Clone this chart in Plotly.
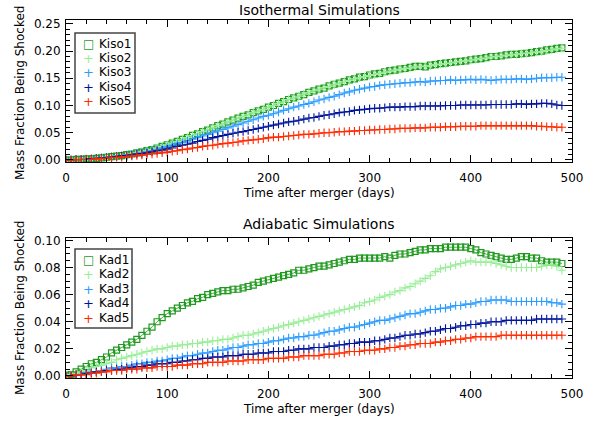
import plotly.graph_objects as go

days = list(range(0, 491, 5))

kiso1 = [0.000,0.000,0.001,0.001,0.002,0.002,0.003,0.004,0.005,0.006,
         0.007,0.008,0.010,0.011,0.013,0.015,0.017,0.019,0.022,0.025,
         0.028,0.031,0.034,0.038,0.041,0.045,0.048,0.052,0.055,0.059,
         0.063,0.066,0.070,0.073,0.077,0.080,0.083,0.087,0.090,0.093,
         0.097,0.100,0.104,0.107,0.111,0.114,0.117,0.120,0.124,0.127,
         0.130,0.132,0.136,0.139,0.141,0.144,0.147,0.149,0.152,0.153,
         0.156,0.158,0.159,0.162,0.164,0.165,0.167,0.168,0.170,0.172,
         0.172,0.171,0.174,0.175,0.177,0.178,0.179,0.180,0.181,0.182,
         0.184,0.185,0.186,0.188,0.190,0.190,0.191,0.193,0.194,0.194,
         0.195,0.196,0.197,0.199,0.200,0.202,0.203,0.205,0.206]
kiso2 = [0.000,0.000,0.001,0.001,0.002,0.002,0.003,0.004,0.005,0.006,
         0.007,0.008,0.010,0.011,0.013,0.015,0.017,0.019,0.022,0.025,
         0.028,0.031,0.034,0.038,0.041,0.045,0.048,0.052,0.055,0.059,
         0.063,0.066,0.070,0.073,0.077,0.080,0.083,0.087,0.090,0.093,
         0.097,0.100,0.104,0.107,0.111,0.114,0.117,0.121,0.124,0.127,
         0.130,0.133,0.135,0.138,0.141,0.144,0.146,0.149,0.151,0.153,
         0.155,0.157,0.159,0.161,0.163,0.165,0.166,0.168,0.169,0.171,
         0.172,0.172,0.173,0.175,0.176,0.177,0.178,0.180,0.181,0.182,
         0.183,0.185,0.186,0.187,0.189,0.190,0.191,0.192,0.193,0.194,
         0.195,0.196,0.197,0.198,0.199,0.201,0.202,0.204,0.205]
kiso3 = [0.000,0.000,0.001,0.001,0.002,0.002,0.003,0.004,0.005,0.006,
         0.007,0.008,0.009,0.010,0.012,0.013,0.015,0.017,0.019,0.022,
         0.024,0.027,0.030,0.032,0.035,0.038,0.041,0.044,0.047,0.050,
         0.053,0.056,0.059,0.062,0.065,0.068,0.071,0.074,0.077,0.080,
         0.082,0.085,0.088,0.091,0.094,0.097,0.099,0.102,0.104,0.107,
         0.110,0.112,0.115,0.117,0.120,0.123,0.125,0.128,0.130,0.132,
         0.134,0.135,0.137,0.138,0.139,0.140,0.141,0.142,0.142,0.143,
         0.144,0.143,0.145,0.145,0.146,0.146,0.147,0.146,0.147,0.147,
         0.148,0.147,0.148,0.147,0.146,0.147,0.148,0.148,0.148,0.149,
         0.149,0.148,0.149,0.150,0.151,0.151,0.151,0.152,0.152]
kiso4 = [0.000,0.000,0.001,0.001,0.001,0.002,0.003,0.003,0.004,0.005,
         0.006,0.007,0.008,0.009,0.011,0.012,0.013,0.015,0.017,0.018,
         0.020,0.022,0.025,0.027,0.029,0.031,0.034,0.036,0.038,0.041,
         0.043,0.045,0.047,0.049,0.051,0.052,0.054,0.056,0.058,0.060,
         0.062,0.064,0.066,0.068,0.070,0.071,0.073,0.075,0.077,0.078,
         0.080,0.082,0.083,0.085,0.087,0.088,0.089,0.091,0.092,0.093,
         0.094,0.095,0.095,0.096,0.097,0.097,0.097,0.098,0.098,0.098,
         0.099,0.099,0.099,0.099,0.099,0.100,0.100,0.100,0.101,0.101,
         0.101,0.101,0.101,0.101,0.102,0.102,0.102,0.102,0.102,0.103,
         0.103,0.102,0.103,0.103,0.104,0.104,0.103,0.101,0.100]
kiso5 = [0.000,0.000,0.000,0.001,0.001,0.001,0.002,0.002,0.003,0.004,
         0.005,0.005,0.006,0.007,0.008,0.009,0.010,0.011,0.012,0.013,
         0.014,0.016,0.017,0.019,0.020,0.022,0.023,0.025,0.026,0.027,
         0.029,0.030,0.031,0.032,0.033,0.035,0.036,0.037,0.038,0.039,
         0.041,0.042,0.042,0.043,0.044,0.045,0.046,0.047,0.047,0.048,
         0.049,0.050,0.050,0.051,0.052,0.052,0.053,0.053,0.054,0.054,
         0.055,0.055,0.056,0.056,0.057,0.057,0.058,0.058,0.058,0.059,
         0.059,0.059,0.060,0.060,0.060,0.061,0.061,0.061,0.062,0.062,
         0.062,0.062,0.063,0.063,0.063,0.063,0.063,0.063,0.063,0.063,
         0.063,0.063,0.063,0.062,0.062,0.061,0.061,0.060,0.060]

kad1 = [0.000,0.001,0.003,0.005,0.007,0.009,0.010,0.012,0.014,0.017,
        0.019,0.021,0.023,0.025,0.027,0.030,0.033,0.036,0.040,0.043,
        0.046,0.048,0.050,0.052,0.054,0.055,0.057,0.058,0.060,0.061,
        0.062,0.063,0.063,0.064,0.064,0.065,0.066,0.067,0.069,0.070,
        0.071,0.072,0.073,0.074,0.075,0.076,0.078,0.078,0.079,0.080,
        0.081,0.081,0.082,0.083,0.084,0.085,0.086,0.086,0.087,0.087,
        0.087,0.087,0.087,0.088,0.087,0.089,0.090,0.090,0.091,0.092,
        0.093,0.093,0.094,0.094,0.094,0.095,0.095,0.095,0.095,0.095,
        0.094,0.093,0.091,0.090,0.089,0.088,0.087,0.086,0.086,0.087,
        0.088,0.088,0.087,0.087,0.085,0.084,0.084,0.084,0.083]
kad2 = [0.000,0.001,0.002,0.003,0.004,0.006,0.007,0.008,0.009,0.010,
        0.012,0.013,0.014,0.015,0.016,0.017,0.018,0.019,0.020,0.020,
        0.021,0.022,0.022,0.023,0.023,0.024,0.024,0.025,0.025,0.026,
        0.026,0.027,0.027,0.028,0.029,0.030,0.030,0.031,0.032,0.033,
        0.034,0.035,0.036,0.037,0.038,0.039,0.040,0.041,0.042,0.043,
        0.044,0.045,0.046,0.047,0.048,0.049,0.050,0.051,0.052,0.054,
        0.055,0.056,0.058,0.059,0.060,0.062,0.063,0.065,0.066,0.068,
        0.070,0.072,0.074,0.077,0.079,0.080,0.081,0.082,0.083,0.084,
        0.085,0.084,0.084,0.084,0.084,0.083,0.082,0.081,0.080,0.080,
        0.080,0.080,0.080,0.080,0.081,0.082,0.082,0.081,0.078]
kad3 = [0.000,0.000,0.001,0.001,0.002,0.003,0.003,0.004,0.005,0.006,
        0.006,0.007,0.007,0.008,0.009,0.009,0.010,0.010,0.011,0.011,
        0.012,0.013,0.013,0.014,0.015,0.015,0.016,0.017,0.017,0.018,
        0.019,0.019,0.020,0.021,0.021,0.022,0.023,0.023,0.024,0.024,
        0.025,0.026,0.026,0.027,0.028,0.028,0.029,0.029,0.030,0.030,
        0.031,0.032,0.033,0.033,0.034,0.035,0.036,0.036,0.037,0.038,
        0.039,0.040,0.041,0.041,0.042,0.043,0.044,0.045,0.046,0.046,
        0.047,0.048,0.049,0.049,0.050,0.050,0.051,0.052,0.052,0.053,
        0.053,0.054,0.055,0.055,0.056,0.056,0.056,0.056,0.055,0.055,
        0.055,0.055,0.055,0.055,0.055,0.055,0.054,0.054,0.053]
kad4 = [0.000,0.000,0.001,0.001,0.002,0.002,0.003,0.003,0.004,0.004,
        0.005,0.005,0.006,0.006,0.007,0.007,0.008,0.008,0.009,0.009,
        0.009,0.010,0.010,0.011,0.011,0.012,0.012,0.013,0.013,0.014,
        0.014,0.014,0.015,0.015,0.015,0.016,0.016,0.016,0.017,0.017,
        0.017,0.018,0.018,0.018,0.019,0.019,0.020,0.020,0.020,0.021,
        0.021,0.021,0.022,0.022,0.023,0.023,0.024,0.024,0.025,0.025,
        0.025,0.026,0.026,0.027,0.028,0.028,0.029,0.030,0.030,0.031,
        0.031,0.032,0.033,0.033,0.034,0.035,0.035,0.036,0.037,0.037,
        0.038,0.038,0.039,0.039,0.040,0.040,0.040,0.041,0.041,0.041,
        0.041,0.041,0.041,0.042,0.042,0.042,0.042,0.042,0.042]
kad5 = [0.000,0.000,0.001,0.001,0.001,0.002,0.002,0.003,0.003,0.004,
        0.004,0.004,0.005,0.005,0.005,0.006,0.006,0.006,0.007,0.007,
        0.007,0.007,0.008,0.008,0.008,0.009,0.009,0.009,0.010,0.010,
        0.010,0.010,0.011,0.011,0.011,0.011,0.012,0.012,0.012,0.012,
        0.013,0.013,0.013,0.013,0.014,0.014,0.014,0.015,0.015,0.015,
        0.015,0.016,0.016,0.016,0.017,0.017,0.018,0.018,0.018,0.019,
        0.019,0.019,0.020,0.020,0.021,0.021,0.022,0.022,0.023,0.023,
        0.024,0.024,0.024,0.025,0.025,0.026,0.026,0.027,0.027,0.028,
        0.028,0.029,0.029,0.029,0.029,0.029,0.030,0.030,0.030,0.030,
        0.030,0.030,0.030,0.030,0.030,0.030,0.030,0.030,0.030]

top_names = ["Kiso1", "Kiso2", "Kiso3", "Kiso4", "Kiso5"]
bot_names = ["Kad1", "Kad2", "Kad3", "Kad4", "Kad5"]
top_series = [kiso1, kiso2, kiso3, kiso4, kiso5]
bot_series = [kad1, kad2, kad3, kad4, kad5]
colors = ["#1f9a1f", "#98ee98", "#2a9cff", "#00149a", "#ff2a00"]
symbols = ["square-open", "cross-thin", "cross-thin", "cross-thin", "cross-thin"]
legend_glyphs = ["\u25a1", "+", "+", "+", "+"]

top_title = "Isothermal Simulations"
bot_title = "Adiabatic Simulations"
x_title = "Time after merger (days)"
y_title = "Mass Fraction Being Shocked"

FONT = "DejaVu Sans"
W, H = 597, 423
ML, MR, MT, MB = 66, 25, 20, 45
PH = H - MT - MB

fig = go.Figure()
for (names, series, xa, ya) in [(top_names, top_series, "x", "y"),
                                (bot_names, bot_series, "x2", "y2")]:
    for i, (nm, ys) in enumerate(zip(names, series)):
        fig.add_trace(go.Scatter(
            x=days, y=ys, name=nm, xaxis=xa, yaxis=ya, mode="lines+markers",
            line=dict(color=colors[i], width=0.8),
            marker=dict(symbol=symbols[i], size=6,
                        color=colors[i],
                        line=dict(color=colors[i], width=1.2 if i == 0 else 1.1)),
            showlegend=False))

def ydom(top_px, bot_px):
    return [(H - MB - bot_px) / PH, (H - MB - top_px) / PH]

axis_common = dict(showline=True, linecolor="black", linewidth=1, mirror="ticks",
                   ticks="inside", ticklen=7, tickcolor="black", tickwidth=1,
                   showgrid=False, zeroline=False,
                   tickfont=dict(family=FONT, size=12, color="black"))

xcommon = dict(axis_common, range=[0, 500], tick0=0, dtick=100,
               ticklabelstandoff=5,
               minor=dict(ticks="inside", ticklen=4, dtick=20, tickcolor="black",
                          showgrid=False))

fig.update_layout(
    width=W, height=H, margin=dict(l=ML, r=MR, t=MT, b=MB),
    paper_bgcolor="white", plot_bgcolor="white", showlegend=False,
    font=dict(family=FONT, color="black", size=12),
    xaxis=dict(xcommon, anchor="y", domain=[0, 1]),
    xaxis2=dict(xcommon, anchor="y2", domain=[0, 1]),
    yaxis=dict(axis_common, anchor="x", domain=ydom(20, 162),
               range=[-0.0037, 0.257], tick0=0, dtick=0.05, tickformat=".2f",
               ticklabelstandoff=2,
               minor=dict(ticks="inside", ticklen=4, dtick=0.01, tickcolor="black")),
    yaxis2=dict(axis_common, anchor="x2", domain=ydom(238, 378),
                range=[-0.0015, 0.1018], tick0=0, dtick=0.02, tickformat=".2f",
                ticklabelstandoff=2,
                minor=dict(ticks="inside", ticklen=4, dtick=0.005, tickcolor="black")),
)

def px_x(px):
    return (px - ML) / (W - ML - MR)

def px_y(py):
    return (H - MB - py) / PH

ann = []
ann.append(dict(text=top_title, x=px_x(319), y=px_y(10), xref="paper", yref="paper",
                showarrow=False, font=dict(size=14, family=FONT), xanchor="center", yanchor="middle"))
ann.append(dict(text=bot_title, x=px_x(319), y=px_y(224), xref="paper", yref="paper",
                showarrow=False, font=dict(size=14, family=FONT), xanchor="center", yanchor="middle"))
for yc in (193, 409):
    ann.append(dict(text=x_title, x=px_x(319), y=px_y(yc), xref="paper", yref="paper",
                    showarrow=False, font=dict(size=12, family=FONT), xanchor="center", yanchor="middle"))
for yc in (93, 308):
    ann.append(dict(text=y_title, x=px_x(20), y=px_y(yc), xref="paper", yref="paper",
                    showarrow=False, textangle=-90, font=dict(size=12, family=FONT),
                    xanchor="center", yanchor="middle"))

shapes = []
legend_specs = [(top_names, (75, 33, 135, 113), [44, 58, 72, 87, 101]),
                (bot_names, (75, 249, 132, 328), [260, 274, 289, 303, 318])]
for names, box, rows in legend_specs:
    x0, y0, x1, y1 = box
    shapes.append(dict(type="rect", xref="paper", yref="paper",
                       x0=px_x(x0), x1=px_x(x1), y0=px_y(y1), y1=px_y(y0),
                       line=dict(color="#444444", width=1.5), fillcolor="white"))
    for i, (nm, ry) in enumerate(zip(names, rows)):
        ann.append(dict(text=legend_glyphs[i], x=px_x(88), y=px_y(ry), xref="paper", yref="paper",
                        showarrow=False, xanchor="center", yanchor="middle", height=12,
                        font=dict(size=12 if i == 0 else 13, family=FONT, color=colors[i])))
        ann.append(dict(text=nm, x=px_x(97), y=px_y(ry), xref="paper", yref="paper",
                        showarrow=False, xanchor="left", yanchor="middle", height=12,
                        font=dict(size=12, family=FONT, color="black")))

fig.update_layout(annotations=ann, shapes=shapes)
fig.write_html("out.html")
